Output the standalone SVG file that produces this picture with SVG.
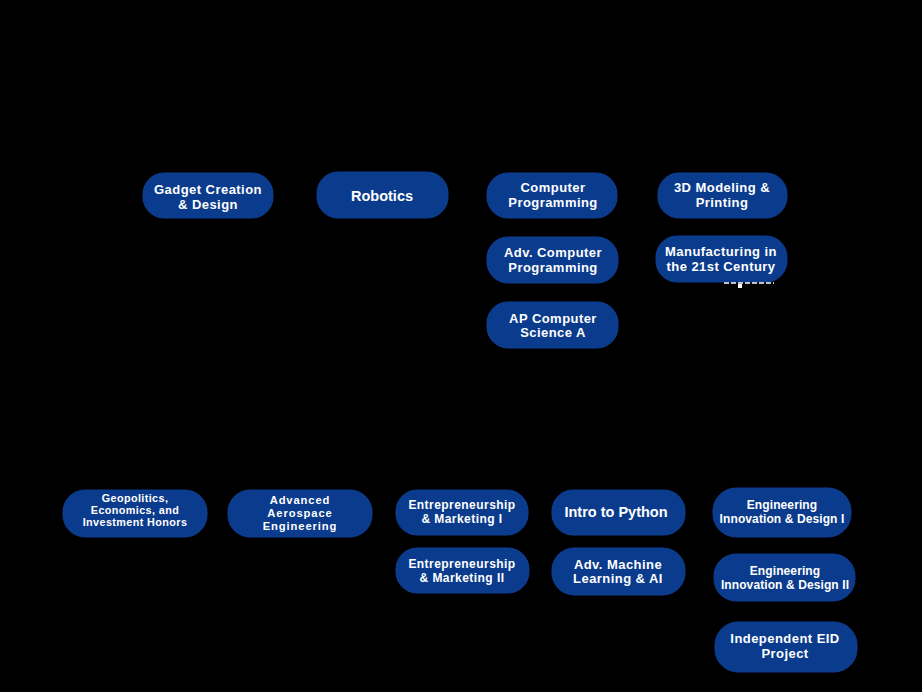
<svg xmlns="http://www.w3.org/2000/svg" width="922" height="692" viewBox="0 0 922 692">
<style>
.n{fill:#0b3b8c;stroke:#0e3f94;stroke-width:1}
.t{fill:#ffffff;font-family:"Liberation Sans",Arial,sans-serif;font-weight:700;text-anchor:middle}
.s13{font-size:13px;letter-spacing:0.45px}
.s12{font-size:12px;letter-spacing:0.45px}
.se{font-size:12px;letter-spacing:0.1px}
.s11{font-size:10.8px;letter-spacing:0.4px}
.sa{font-size:11.2px;letter-spacing:0.9px}
.s14{font-size:14.5px}
</style>
<rect x="0" y="0" width="922" height="692" fill="#000000"/>
<g id="connectors"></g>
<g id="gadget"><rect class="n" x="143" y="173" width="130" height="45" rx="21"/><text class="t s13" x="208" y="194">Gadget Creation</text><text class="t s13" x="208" y="208.7">&amp; Design</text></g>
<g id="robotics"><rect class="n" x="317" y="172" width="131" height="46" rx="21"/><text class="t s14" x="382" y="201">Robotics</text></g>
<g id="comp-prog"><rect class="n" x="487" y="173" width="130" height="45" rx="21"/><text class="t s13" x="553" y="192">Computer</text><text class="t s13" x="553" y="206.7">Programming</text></g>
<g id="modeling"><rect class="n" x="658" y="173" width="129" height="45" rx="21"/><text class="t s13" x="722" y="192">3D Modeling &amp;</text><text class="t s13" x="722" y="206.7">Printing</text></g>
<g id="adv-comp-prog"><rect class="n" x="487" y="237" width="131" height="46" rx="21"/><text class="t s13" x="553" y="257">Adv. Computer</text><text class="t s13" x="553" y="271.7">Programming</text></g>
<g id="manufacturing"><rect class="n" x="656" y="236" width="131" height="46" rx="21"/><text class="t s13" x="721" y="256.3">Manufacturing in</text><text class="t s13" x="721" y="271">the 21st Century</text></g>
<g id="speck"><line x1="724" y1="283" x2="774" y2="283" stroke="#ffffff" stroke-width="1.5" stroke-dasharray="5 2"/><rect x="738" y="284" width="4" height="4" fill="#ffffff"/></g>
<g id="ap-cs"><rect class="n" x="487" y="302" width="131" height="46" rx="21"/><text class="t s13" x="553" y="322.5">AP Computer</text><text class="t s13" x="553" y="337.2">Science A</text></g>
<g id="geopolitics"><rect class="n" x="63" y="490" width="144" height="47" rx="22"/><text class="t s11" x="135" y="502">Geopolitics,</text><text class="t s11" x="135" y="514.2">Economics, and</text><text class="t s11" x="135" y="526.4">Investment Honors</text></g>
<g id="aerospace"><rect class="n" x="228" y="490" width="144" height="47" rx="22"/><text class="t sa" x="300" y="504.3">Advanced</text><text class="t sa" x="300" y="516.9">Aerospace</text><text class="t sa" x="300" y="529.5">Engineering</text></g>
<g id="entre1"><rect class="n" x="396" y="490" width="132" height="45" rx="21"/><text class="t s12" x="462" y="508.5">Entrepreneurship</text><text class="t s12" x="462" y="522.5">&amp; Marketing I</text></g>
<g id="entre2"><rect class="n" x="396" y="548" width="133" height="45" rx="21"/><text class="t s12" x="462" y="567.5">Entrepreneurship</text><text class="t s12" x="462" y="581.5">&amp; Marketing II</text></g>
<g id="python"><rect class="n" x="552" y="490" width="133" height="45" rx="21"/><text class="t s14" x="616" y="516.5">Intro to Python</text></g>
<g id="ml-ai"><rect class="n" x="552" y="548" width="133" height="47" rx="22"/><text class="t s13" x="618" y="568.5">Adv. Machine</text><text class="t s13" x="618" y="583.2">Learning &amp; AI</text></g>
<g id="eid1"><rect class="n" x="713" y="488" width="138" height="49" rx="23"/><text class="t se" x="782" y="509.3">Engineering</text><text class="t se" x="782" y="522.8">Innovation &amp; Design I</text></g>
<g id="eid2"><rect class="n" x="714" y="554" width="141" height="47" rx="22"/><text class="t se" x="785" y="575">Engineering</text><text class="t se" x="785" y="588.5">Innovation &amp; Design II</text></g>
<g id="eid-project"><rect class="n" x="715" y="622" width="142" height="50" rx="23"/><text class="t s13" x="785" y="643">Independent EID</text><text class="t s13" x="785" y="657.7">Project</text></g>
</svg>
